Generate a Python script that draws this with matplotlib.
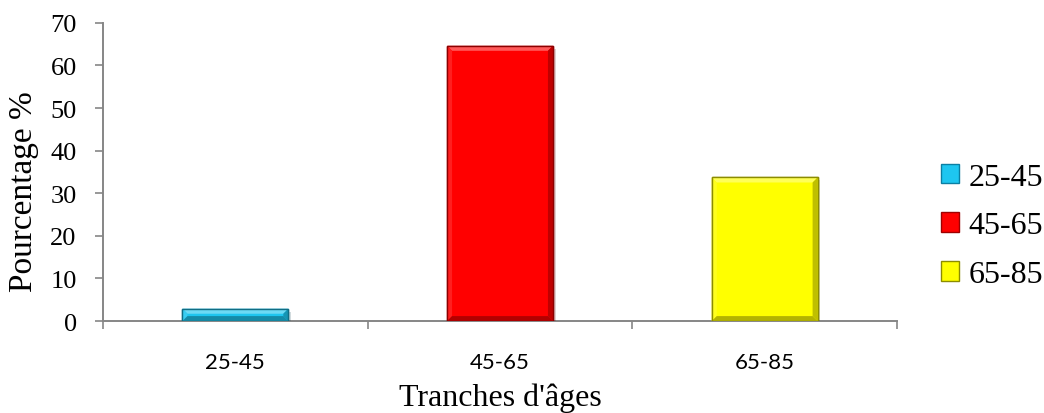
import matplotlib
matplotlib.use("Agg")
import matplotlib.pyplot as plt
import matplotlib.patheffects as pe
from matplotlib.patches import Patch, Polygon
from matplotlib.colors import to_rgb

# age groups and share of patients (%)
categories = ["25-45", "45-65", "65-85"]
values = [2.9, 64.6, 33.7]
face_colors = ["#1ec6f0", "#ff0000", "#ffff00"]
edge_colors = ["#0b7fa3", "#9e0000", "#8c8c00"]

serif = "Liberation Serif"
axis_grey = "#868686"


def mix(color, other, t):
    c, o = to_rgb(color), to_rgb(other)
    return tuple(a + (b - a) * t for a, b in zip(c, o))


fig = plt.figure(figsize=(10.44, 4.14), dpi=100)
ax = fig.add_axes([0.0987, 0.222, 0.7605, 0.7205])

x = range(len(categories))
bars = ax.bar(x, values, width=0.40, color=face_colors, edgecolor=edge_colors,
              linewidth=1.0, zorder=3)
for b in bars:
    b.set_path_effects([pe.SimplePatchShadow(offset=(2, -2), alpha=0.18),
                        pe.Normal()])

ax.set_xlim(-0.5, len(categories) - 0.5)
ax.set_ylim(0, 70)

# bevel facets on each bar, ~5 px wide
bev = 5
px_x = ax.bbox.width / (ax.get_xlim()[1] - ax.get_xlim()[0])
px_y = ax.bbox.height / (ax.get_ylim()[1] - ax.get_ylim()[0])
dx, dy = bev / px_x, bev / px_y
for b, fc in zip(bars, face_colors):
    x0, y0 = b.get_x(), b.get_y()
    x1, y1 = x0 + b.get_width(), y0 + b.get_height()
    d_y = min(dy, b.get_height() / 2)
    facets = [
        ([(x0, y1), (x1, y1), (x1 - dx, y1 - d_y), (x0 + dx, y1 - d_y)], mix(fc, "white", 0.35)),
        ([(x0, y0), (x0, y1), (x0 + dx, y1 - d_y), (x0 + dx, y0 + d_y)], mix(fc, "white", 0.12)),
        ([(x1, y0), (x1, y1), (x1 - dx, y1 - d_y), (x1 - dx, y0 + d_y)], mix(fc, "black", 0.25)),
        ([(x0, y0), (x1, y0), (x1 - dx, y0 + d_y), (x0 + dx, y0 + d_y)], mix(fc, "black", 0.30)),
    ]
    for pts, col in facets:
        ax.add_patch(Polygon(pts, closed=True, facecolor=col, edgecolor="none", zorder=4))
    ax.add_patch(Polygon([(x0, y0), (x1, y0), (x1, y1), (x0, y1)], closed=True,
                         facecolor="none", edgecolor=mix(fc, "black", 0.45),
                         linewidth=1.0, zorder=5))

ax.set_yticks(range(0, 71, 10))
ax.set_xticks(list(x))
ax.set_xticklabels(categories, fontfamily="Lato", fontsize=16)
ax.set_xticks([i - 0.5 for i in range(len(categories) + 1)], minor=True)
ax.tick_params(axis="x", which="major", length=0, pad=22)
ax.tick_params(axis="x", which="minor", length=6, width=1.2, color=axis_grey,
               direction="out")
ax.tick_params(axis="y", length=6, width=1.2, color=axis_grey, direction="out",
               labelsize=19, pad=13)
for lab in ax.get_yticklabels():
    lab.set_fontfamily(serif)

for side in ("top", "right"):
    ax.spines[side].set_visible(False)
for side in ("left", "bottom"):
    ax.spines[side].set_color(axis_grey)
    ax.spines[side].set_linewidth(1.4)

ax.set_ylabel("Pourcentage %", fontfamily=serif, fontsize=24)
ax.yaxis.set_label_coords(-0.081, 0.436)
ax.set_xlabel("Tranches d'âges", fontfamily=serif, fontsize=23)
ax.xaxis.set_label_coords(0.5, -0.205)

handles = [Patch(facecolor=fc, edgecolor=ec, linewidth=1.0)
           for fc, ec in zip(face_colors, edge_colors)]
fig.legend(handles, categories, loc="center left", bbox_to_anchor=(0.9015, 0.452),
           frameon=False, prop={"family": serif, "size": 23},
           handlelength=0.55, handleheight=0.55, handletextpad=0.3,
           labelspacing=0.62, borderpad=0, borderaxespad=0)

fig.savefig("out.png", dpi=100, facecolor="white")
